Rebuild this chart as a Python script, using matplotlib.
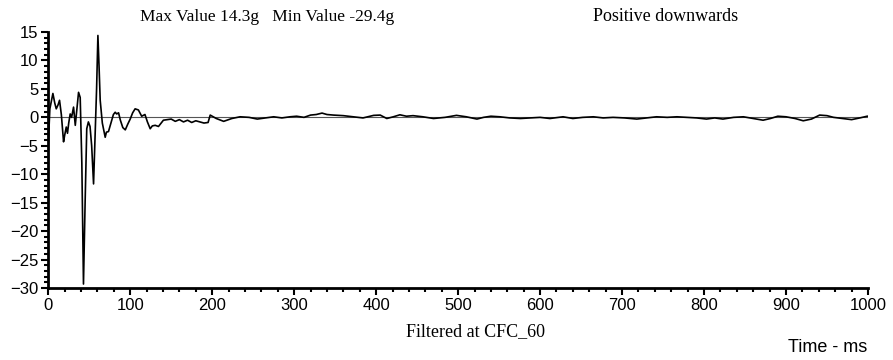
import numpy as np
import matplotlib.pyplot as plt
from matplotlib.ticker import MultipleLocator

# ==== Data (time in ms, acceleration in g) ====
time_ms = [0, 2, 5.7, 8, 9.8, 12, 13.8, 16, 18.7, 20, 22, 23.5, 25, 26.8, 28.5, 30.9, 33,
           35, 37, 39, 41, 43, 45, 47, 49, 51, 53, 55.3, 57, 59, 60.6, 62, 63.4, 66,
           69.5, 71, 73.5, 75.5, 77.6, 79.5, 81.7, 83.5, 85.8, 88, 91, 94, 97, 100,
           103, 106, 110, 114, 118, 121, 124.4, 127, 130.5, 134.5, 140.5, 145, 150,
           155, 160, 165, 170, 175, 180, 185, 190, 195, 197.6, 200, 205, 214, 224,
           234, 245, 255, 265, 275, 285, 295, 303, 312, 320, 327, 334, 340, 348, 360,
           372, 384, 390, 397, 405, 413, 421, 429, 437, 445, 457, 470, 484, 498, 510,
           523, 531, 540, 551, 563, 576, 588, 600, 612, 628, 640, 652, 665, 677, 689,
           703, 718, 730, 742, 755, 767, 780, 791, 803, 813, 823, 836, 848, 860, 872,
           881, 890, 900, 911, 921, 931, 941, 950, 958, 969, 980, 990, 999]
accel_g = [-5.0, 1.5, 4.2, 2.5, 1.5, 2.2, 3.0, 0.5, -4.3, -3.2, -1.7, -2.8, -1.0, 0.6,
           0.0, 1.8, -1.4, 1.5, 4.4, 3.5, -8.0, -29.3, -15.0, -2.0, -0.8, -1.6, -5.0,
           -11.7, -4.0, 5.0, 14.4, 9.0, 3.0, -1.0, -3.5, -2.6, -2.5, -1.5, -0.5, 0.5,
           0.9, 0.6, 0.8, -0.5, -1.8, -2.2, -1.2, -0.3, 0.8, 1.5, 1.3, 0.2, 0.5, -0.8,
           -2.0, -1.5, -1.4, -1.6, -0.5, -0.4, -0.3, -0.7, -0.4, -0.8, -0.5, -0.9,
           -0.6, -0.8, -1.0, -0.9, 0.4, 0.2, -0.2, -0.7, -0.2, 0.1, 0.0, -0.3, -0.1,
           0.1, -0.1, 0.1, 0.2, 0.0, 0.4, 0.5, 0.75, 0.5, 0.4, 0.3, 0.1, -0.1, 0.1,
           0.35, 0.4, -0.2, 0.1, 0.45, 0.2, 0.3, 0.1, -0.2, 0.0, 0.35, 0.1, -0.3, 0.0,
           0.2, 0.1, -0.1, -0.2, -0.1, 0.0, -0.2, 0.1, -0.2, 0.0, 0.1, -0.1, 0.0,
           -0.1, -0.3, -0.1, 0.1, 0.0, 0.1, 0.0, -0.1, -0.3, -0.1, -0.3, 0.0, 0.1,
           -0.2, -0.5, -0.2, 0.2, 0.1, -0.2, -0.6, -0.3, 0.4, 0.3, 0.0, -0.2, -0.4,
           -0.1, 0.2]

x_ticks = [0, 100, 200, 300, 400, 500, 600, 700, 800, 900, 1000]
y_ticks = [15, 10, 5, 0, -5, -10, -15, -20, -25, -30]

fig = plt.figure(figsize=(8.93, 3.6), dpi=100)
ax = fig.add_axes([0.054, 0.2, 0.918, 0.711])

ax.axhline(0, color='#555555', lw=0.8, zorder=1)
ax.plot(time_ms, accel_g, color='black', lw=1.2, zorder=2)

ax.set_xlim(0, 1000)
ax.set_ylim(-30, 15)
ax.set_xticks(x_ticks)
ax.set_yticks(y_ticks)
ax.xaxis.set_minor_locator(MultipleLocator(20))
ax.yaxis.set_minor_locator(MultipleLocator(1))

for s in ['top', 'right']:
    ax.spines[s].set_visible(False)
for s in ['left', 'bottom']:
    ax.spines[s].set_linewidth(2)

ax.tick_params(which='major', direction='out', length=5, width=1.5,
               labelsize=12, pad=2)
ax.tick_params(which='minor', direction='out', length=3, width=1.5)
for lab in ax.get_xticklabels() + ax.get_yticklabels():
    lab.set_family('Liberation Sans')

serif = 'Liberation Serif'
fig.text(0.157, 0.953, "Max Value 14.3g   Min Value -29.4g", family=serif,
         fontsize=12.5, ha='left', va='center')
fig.text(0.745, 0.953, "Positive downwards", family=serif,
         fontsize=13, ha='center', va='center')
fig.text(0.532, 0.078, "Filtered at CFC_60", family=serif,
         fontsize=13, ha='center', va='center')
fig.text(0.971, 0.035, "Time - ms", family='Liberation Sans',
         fontsize=13, ha='right', va='center')

fig.savefig('out.png', dpi=100)
